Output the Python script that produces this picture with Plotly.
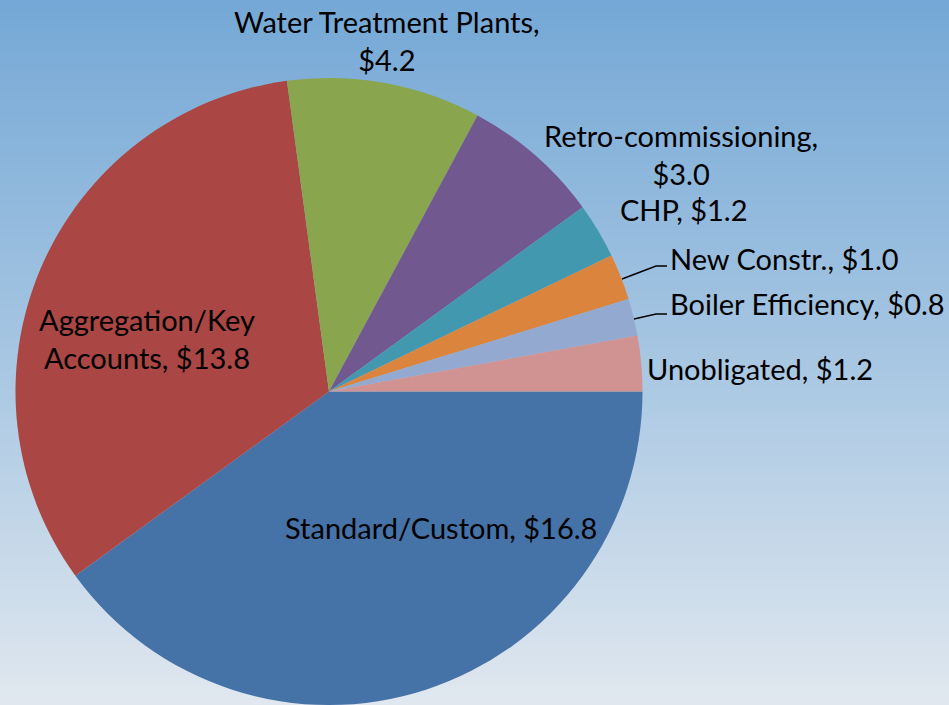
import plotly.graph_objects as go

# ---- data ----
categories = ["Standard/Custom", "Aggregation/Key Accounts", "Water Treatment Plants",
              "Retro-commissioning", "CHP", "New Constr.", "Boiler Efficiency", "Unobligated"]
values = [16.8, 13.8, 4.2, 3.0, 1.2, 1.0, 0.8, 1.2]
colors = ["#4572A7", "#AA4643", "#89A54E", "#71588F", "#4198AF", "#DB843D", "#93A9CF", "#D19392"]

W, H = 949, 705
FONT = "Lato"
FS = 29

fig = go.Figure(go.Pie(
    labels=categories, values=values, sort=False, direction="clockwise", rotation=90,
    marker=dict(colors=colors, line=dict(width=0)), textinfo="none", hoverinfo="label+value",
    domain=dict(x=[15/W, 643/W], y=[0, 1 - 78/H]), showlegend=False,
))

# gradient background
def lerp(a, b, t):
    return tuple(round(a[i] + (b[i] - a[i]) * t) for i in range(3))
top = (0x75, 0xA8, 0xD6)
mid = (0xA6, 0xC6, 0xE2)
bot = (0xE0, 0xE7, 0xEF)
shapes = []
N = 141
for i in range(N):
    t = i / (N - 1)
    c = lerp(top, mid, t * 2) if t < 0.5 else lerp(mid, bot, (t - 0.5) * 2)
    shapes.append(dict(type="rect", xref="paper", yref="paper", x0=0, x1=1,
                       y0=1 - (i + 1) / N - 0.001, y1=1 - i / N, layer="below",
                       line=dict(width=0), fillcolor="rgb(%d,%d,%d)" % c))

def px(x, y):
    return x / W, 1 - y / H

def fmt(i):
    return "$%.1f" % values[i]

# leader lines
for pts in [[(622, 279), (656, 266), (667, 266)], [(634, 319), (656, 314), (667, 314)]]:
    path = "M " + " L ".join("%f,%f" % px(*p) for p in pts)
    shapes.append(dict(type="path", xref="paper", yref="paper", path=path,
                       line=dict(color="black", width=1.5)))

ann = []
def add(text, x, y, xanchor="center"):
    xx, yy = px(x, y)
    ann.append(dict(text=text, x=xx, y=yy, xref="paper", yref="paper", showarrow=False,
                    xanchor=xanchor, yanchor="middle", font=dict(family=FONT, size=FS, color="black")))

add(f"{categories[2]},<br>{fmt(2)}", 387, 41)
add(f"{categories[3]},<br>{fmt(3)}", 681, 154)
add(f"{categories[4]}, {fmt(4)}", 683, 209)
add(f"{categories[5]}, {fmt(5)}", 668, 258, "left")
add(f"{categories[6]}, {fmt(6)}", 668, 304, "left")
add(f"{categories[7]}, {fmt(7)}", 645, 368, "left")
add("Aggregation/Key<br>Accounts, " + fmt(1), 147, 339)
add(f"{categories[0]}, {fmt(0)}", 441, 527)

fig.update_layout(width=W, height=H, margin=dict(l=0, r=0, t=0, b=0),
                  paper_bgcolor="#A6C6E2", shapes=shapes, annotations=ann)
fig.write_html("out.html", config={"displayModeBar": False},
               post_script="document.body.style.margin='0';document.body.style.overflow='hidden';")
